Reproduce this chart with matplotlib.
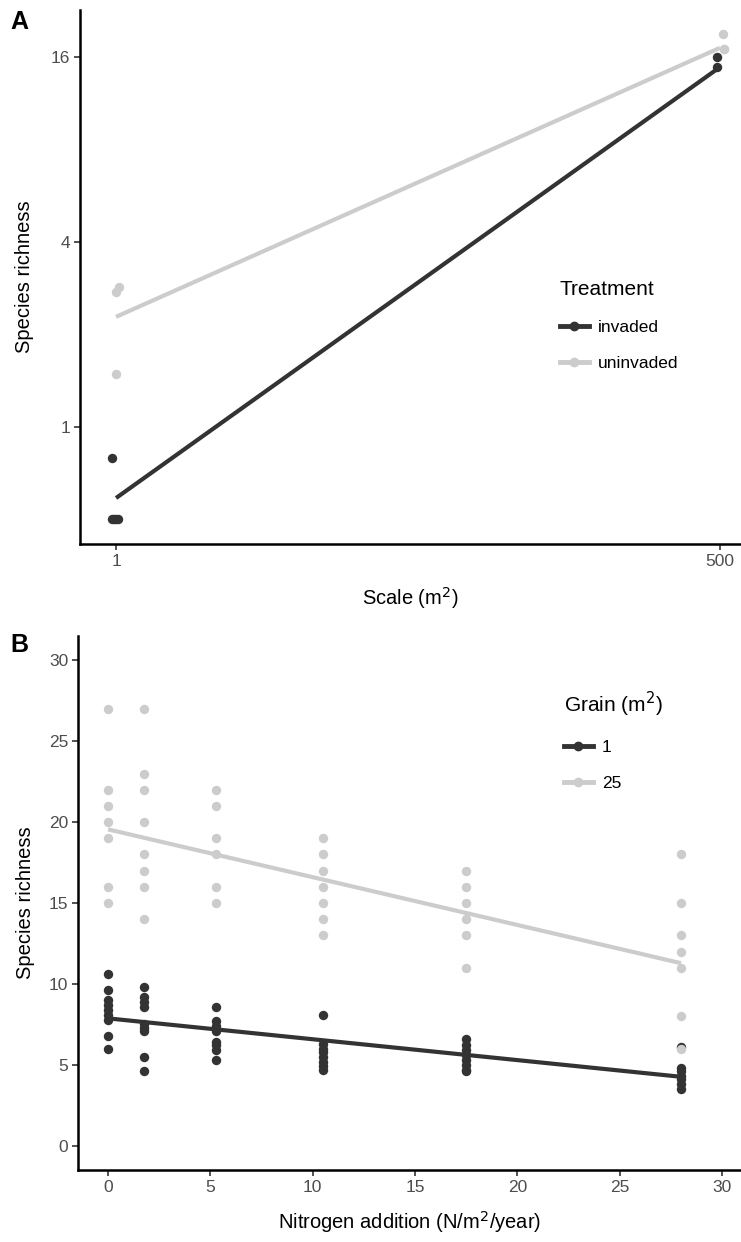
import matplotlib
matplotlib.use("Agg")
import matplotlib.pyplot as plt
from matplotlib.lines import Line2D
import numpy as np

plt.rcParams['font.family'] = ['Liberation Sans', 'DejaVu Sans']

DARK = '#333333'
LIGHT = '#cccccc'
TICKC = '#4d4d4d'

#----------------------------- panel A data (scale) -----------------------------
a_inv_x = [0.96, 0.96, 0.98, 1.0, 1.02, 483, 483]
a_inv_y = [0.79, 0.5, 0.5, 0.5, 0.5, 16.0, 14.8]
a_uninv_x = [1.0, 1.03, 1.0, 515, 520, 520]
a_uninv_y = [2.75, 2.85, 1.49, 19.0, 17.0, 17.0]
a_fit_x = [1, 500]
a_fit_inv = [0.587, 14.8]
a_fit_uninv = [2.28, 17.1]

#----------------------------- panel B data (nitrogen) --------------------------
n_levels = [0, 1.75, 5.25, 10.5, 17.5, 28]
grain1 = [
    [10.6, 9.6, 9.0, 8.7, 8.4, 8.1, 7.8, 6.8, 6.0],
    [9.8, 9.2, 8.9, 8.6, 7.5, 7.3, 7.1, 5.5, 4.6],
    [8.6, 7.7, 7.4, 7.1, 6.4, 6.2, 5.9, 5.3],
    [8.1, 6.3, 6.0, 5.8, 5.5, 5.2, 4.9, 4.7],
    [6.6, 6.2, 5.9, 5.6, 5.3, 5.0, 4.7, 4.6],
    [6.1, 4.8, 4.6, 4.3, 4.1, 3.8, 3.5],
]
grain25 = [
    [27, 22, 21, 20, 19, 16, 15],
    [27, 23, 22, 20, 18, 17, 16, 14],
    [22, 21, 19, 18, 16, 15],
    [19, 18, 17, 16, 15, 14, 13],
    [17, 16, 15, 14, 13, 11],
    [18, 15, 13, 12, 11, 8, 6],
]
b_fit_x = [0, 28]
b_fit_1 = [7.87, 4.26]
b_fit_25 = [19.55, 11.28]


def style_axes(ax):
    for s in ['top', 'right']:
        ax.spines[s].set_visible(False)
    for s in ['left', 'bottom']:
        ax.spines[s].set_linewidth(1.8)
        ax.spines[s].set_color('black')
    ax.tick_params(axis='both', length=4, width=1.2, color='#333333',
                   labelcolor=TICKC, labelsize=12.5, pad=3)


def flat(levels, groups):
    xs, ys = [], []
    for x, g in zip(levels, groups):
        xs += [x] * len(g)
        ys += g
    return xs, ys


fig = plt.figure(figsize=(7.41, 12.42), dpi=100)

#----------------------------------- panel A -----------------------------------
ax1 = fig.add_axes([80 / 741, 1 - 544 / 1242, 661 / 741, 534 / 1242])
ax1.set_xscale('log')
ax1.set_yscale('log', base=2)
ax1.scatter(a_inv_x, a_inv_y, s=46, color=DARK, zorder=3, linewidths=0)
ax1.scatter(a_uninv_x, a_uninv_y, s=46, color=LIGHT, zorder=3, linewidths=0)
ax1.plot(a_fit_x, a_fit_uninv, color=LIGHT, lw=3, zorder=4, solid_capstyle='butt')
ax1.plot(a_fit_x, a_fit_inv, color=DARK, lw=3, zorder=4, solid_capstyle='butt')
ax1.set_xlim(0.69, 621)
ax1.set_ylim(0.416, 22.7)
ax1.set_xticks([1, 500])
ax1.set_xticklabels(['1', '500'])
ax1.set_yticks([1, 4, 16])
ax1.set_yticklabels(['1', '4', '16'])
ax1.xaxis.set_minor_locator(matplotlib.ticker.NullLocator())
ax1.yaxis.set_minor_locator(matplotlib.ticker.NullLocator())
style_axes(ax1)
ax1.set_xlabel('Scale (m$^2$)', fontsize=14.5, labelpad=12)
ax1.set_ylabel('Species richness', fontsize=14.5, labelpad=12)

h1 = [Line2D([], [], color=DARK, lw=3.5, marker='o', ms=6),
      Line2D([], [], color=LIGHT, lw=3.5, marker='o', ms=6)]
leg1 = ax1.legend(h1, ['invaded', 'uninvaded'], title='Treatment', frameon=False,
                  loc='upper left', bbox_to_anchor=(544 / 741, 1 - 264 / 1242),
                  bbox_transform=fig.transFigure, fontsize=12.5, title_fontsize=15,
                  handlelength=1.7, handletextpad=0.5, labelspacing=1.2,
                  alignment='left')

#----------------------------------- panel B -----------------------------------
ax2 = fig.add_axes([78 / 741, 1 - 1170 / 1242, 663 / 741, 534 / 1242])
x1, y1 = flat(n_levels, grain1)
x25, y25 = flat(n_levels, grain25)
ax2.scatter(x1, y1, s=46, color=DARK, zorder=3, linewidths=0)
ax2.scatter(x25, y25, s=46, color=LIGHT, zorder=3, linewidths=0)
ax2.plot(b_fit_x, b_fit_25, color=LIGHT, lw=3, zorder=4, solid_capstyle='butt')
ax2.plot(b_fit_x, b_fit_1, color=DARK, lw=3, zorder=4, solid_capstyle='butt')
ax2.set_xlim(-1.47, 30.93)
ax2.set_ylim(-1.5, 31.5)
ax2.set_xticks(np.arange(0, 31, 5))
ax2.set_yticks(np.arange(0, 31, 5))
style_axes(ax2)
ax2.set_xlabel('Nitrogen addition (N/m$^2$/year)', fontsize=14.5, labelpad=10)
ax2.set_ylabel('Species richness', fontsize=14.5, labelpad=10)

h2 = [Line2D([], [], color=DARK, lw=3.5, marker='o', ms=6),
      Line2D([], [], color=LIGHT, lw=3.5, marker='o', ms=6)]
leg2 = ax2.legend(h2, ['1', '25'], title='Grain (m$^2$)', frameon=False,
                  loc='upper left', bbox_to_anchor=(548 / 741, 1 - 674 / 1242),
                  bbox_transform=fig.transFigure, fontsize=12.5, title_fontsize=15,
                  handlelength=1.7, handletextpad=0.5, labelspacing=1.2,
                  alignment='left')

fig.text(10 / 741, 1 - 22 / 1242, 'A', fontsize=18, fontweight='bold', va='center')
fig.text(10 / 741, 1 - 645 / 1242, 'B', fontsize=18, fontweight='bold', va='center')

plt.savefig('out.png', dpi=100)
